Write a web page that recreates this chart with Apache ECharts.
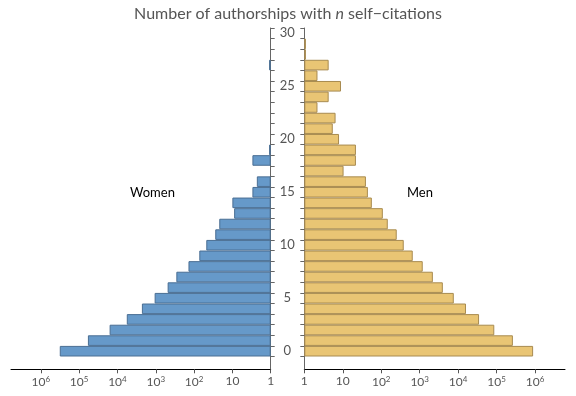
<!DOCTYPE html>
<html>
<head>
<meta charset="utf-8">
<title>Self-citations by gender</title>
<script src="https://cdn.jsdelivr.net/npm/echarts@6.0.0/dist/echarts.min.js"></script>
<style>
    html, body { margin: 0; padding: 0; background: #fff; }
    #pyramid { width: 576px; height: 396px; }
</style>
</head>
<body>
<div id="pyramid"></div>
<script>
// number of self-citations n (one bar per n)
var categories = ['0', '1', '2', '3', '4', '5', '6', '7', '8', '9', '10',
    '11', '12', '13', '14', '15', '16', '17', '18', '19', '20',
    '21', '22', '23', '24', '25', '26', '27', '28', '29', '30'];

// authorships by women, '-' = no bar
var women = [320000, 59000, 16000, 5700, 2300, 1070, 490, 290, 140, 73, 48,
    28, 22, 9, 10, 3, 2.3, '-', 3, 1.1, '-',
    '-', '-', '-', '-', '-', '-', 1.1, '-', '-', '-'];

// authorships by men
var men = [890000, 265000, 87000, 35000, 16000, 7700, 4000, 2200, 1200, 660, 385,
    253, 148, 110, 57, 45, 40, 10.5, 22, 22, 8,
    5.5, 6.5, 2.2, 4.3, 9, 2.2, 4.3, 1.1, 1.1, '-'];

// log axis tick values
var logTicks = [1, 10, 100, 1000, 10000, 100000, 1000000];

$ready(function () {
    "use strict";
    var chart = echarts.init(document.getElementById('pyramid'));

    var textFont = 'Lato, "Open Sans", sans-serif';
    var axisMax = 6000000;

    // label 10^k as superscript
    function powerLabel(value) {
        var e = Math.round(Math.log(value) / Math.LN10);
        if (e === 0) return '1';
        if (e === 1) return '10';
        return '{b|10}{s|' + e + '}';
    }

    // visible log axis (bottom of the frame)
    function frameXAxis(gridIndex, inverse) {
        return {
            gridIndex: gridIndex,
            type: 'log',
            min: 1,
            max: axisMax,
            inverse: inverse,
            splitLine: { show: false },
            axisLine: { lineStyle: { color: '#000', width: 1 } },
            axisTick: { length: 4, lineStyle: { color: '#555' }, customValues: logTicks },
            axisLabel: {
                customValues: logTicks,
                formatter: powerLabel,
                margin: 6,
                color: '#555',
                fontFamily: textFont,
                fontSize: 12,
                rich: {
                    b: { fontSize: 12, lineHeight: 14, color: '#555', fontFamily: textFont },
                    s: { fontSize: 8, verticalAlign: 'top', color: '#555', fontFamily: textFont }
                }
            }
        };
    }

    // hidden log axis carrying the bars
    function barXAxis(gridIndex, inverse) {
        return {
            gridIndex: gridIndex,
            type: 'log',
            min: 1,
            max: axisMax,
            inverse: inverse,
            show: false
        };
    }

    // vertical frame line
    function frameYAxis(gridIndex, position) {
        return {
            gridIndex: gridIndex,
            type: 'value',
            position: position,
            axisLine: { show: true, lineStyle: { color: '#666', width: 1 } },
            axisTick: { show: false },
            axisLabel: { show: false },
            splitLine: { show: false }
        };
    }

    // category axis with ticks between bars
    function barYAxis(gridIndex, position, showLabels) {
        return {
            gridIndex: gridIndex,
            type: 'category',
            position: position,
            data: categories,
            boundaryGap: true,
            axisLine: { show: false },
            axisTick: { show: true, interval: 0, length: 4, lineStyle: { color: '#666' } },
            axisLabel: {
                show: showLabels,
                interval: 4,
                align: 'center',
                margin: 17,
                color: '#555',
                fontFamily: textFont,
                fontSize: 13
            },
            splitLine: { show: false }
        };
    }

    var option = {
        animation: false,

        // Title
        title: {
            text: '{a|Number of authorships with }{i|n}{a| self\u2212citations}',
            left: 'center',
            top: 1,
            textStyle: {
                fontWeight: 'normal',
                rich: {
                    a: { fontFamily: textFont, fontSize: 16, color: '#555', fontWeight: 'normal' },
                    i: { fontFamily: textFont, fontSize: 16, color: '#555', fontWeight: 'normal', fontStyle: 'italic' }
                }
            }
        },

        // Setup grids: bars and frames for each side
        grid: [
            { left: 11, right: 305.3, top: 28, bottom: 39.5, outerBoundsMode: 'none' },
            { left: 11, right: 305.3, top: 28, bottom: 26.7, outerBoundsMode: 'none' },
            { left: 304.3, right: 11, top: 28, bottom: 39.5, outerBoundsMode: 'none' },
            { left: 304.3, right: 11, top: 28, bottom: 26.7, outerBoundsMode: 'none' }
        ],

        xAxis: [
            barXAxis(0, true),
            frameXAxis(1, true),
            barXAxis(2, false),
            frameXAxis(3, false)
        ],

        yAxis: [
            barYAxis(0, 'right', false),
            frameYAxis(1, 'right'),
            barYAxis(2, 'left', true),
            frameYAxis(3, 'left')
        ],

        // Side labels
        graphic: [
            {
                type: 'text', left: 130, top: 186,
                style: { text: 'Women', fill: '#000', font: '13px ' + textFont }
            },
            {
                type: 'text', left: 407, top: 186,
                style: { text: 'Men', fill: '#000', font: '13px ' + textFont }
            }
        ],

        // Add series
        series: [
            {
                name: 'Women',
                type: 'bar',
                xAxisIndex: 0,
                yAxisIndex: 0,
                barCategoryGap: '0%',
                itemStyle: { color: '#6699c9', borderColor: '#4a6e93', borderWidth: 1 },
                data: women
            },
            {
                name: 'Men',
                type: 'bar',
                xAxisIndex: 2,
                yAxisIndex: 2,
                barCategoryGap: '0%',
                itemStyle: { color: '#e9c574', borderColor: '#a88b50', borderWidth: 1 },
                data: men
            }
        ]
    };
    chart.setOption(option);

    // Resize chart on window resize
    window.addEventListener('resize', function () {
        setTimeout(function () {
            chart.resize();
        }, 200);
    });
});

function $ready(fn) {
    if (document.readyState !== 'loading') fn();
    else document.addEventListener('DOMContentLoaded', fn);
}
</script>
</body>
</html>
